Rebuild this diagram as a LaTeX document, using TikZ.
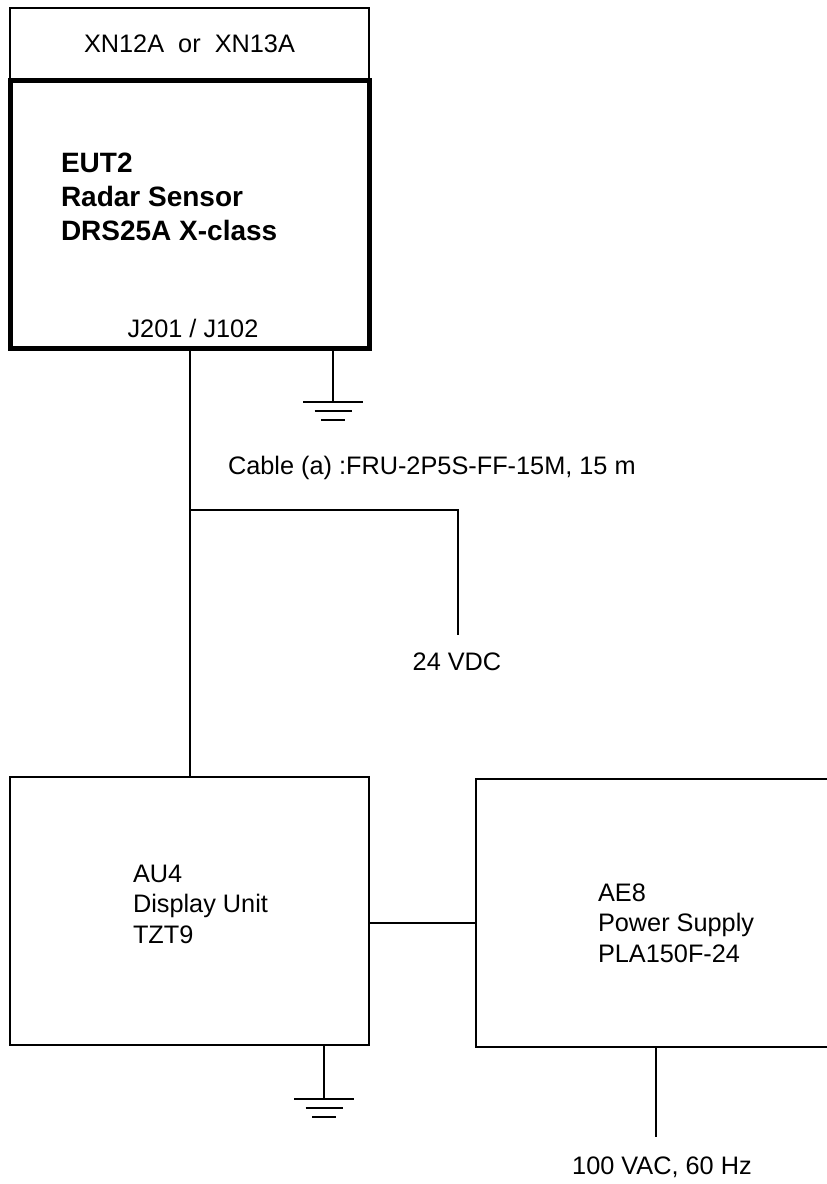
\documentclass[tikz,border=0pt]{standalone}
\usepackage{fontspec}
\setmainfont{Liberation Sans}
\usetikzlibrary{positioning}

\begin{document}
\begin{tikzpicture}[x=1pt, y=-1pt, line width=2pt,
    font=\fontsize{25.3}{30.5}\selectfont,
    unit/.style={draw, minimum width=359pt, minimum height=268pt, inner sep=0pt},
    txt/.style={inner sep=0pt, align=left, anchor=west},
    earth/.pic={\draw (-30,0) -- (30,0) (-18.5,9) -- (18.5,9) (-12,18) -- (12,18);}]
    \clip (0,0) rectangle (827,1184);

    % units
    \node[draw, line width=1.2pt, minimum width=359pt, minimum height=72pt] (hdr) at (189.5,44) {XN12A\ \ or\ \ XN13A};
    \node[unit, line width=5pt] (eut) at (189.5,214) {};
    \node[unit] (au) at (189.5,911) {};
    \node[unit, minimum width=380pt] (ae) at (666,913) {};

    \node[txt, font=\fontsize{28}{34}\selectfont\bfseries] (eutlbl) at (60,197) {EUT2\\Radar Sensor\\DRS25A X-class};
    \node[inner sep=0pt] (port) at (193,328) {J201 / J102};
    \node[txt] (aulbl) at (132,904) {AU4\\Display Unit\\TZT9};
    \node[txt] (aelbl) at (597,923) {AE8\\Power Supply\\PLA150F-24};

    % cabling
    \node[txt] (cable) at (227,468) {Cable (a) :FRU-2P5S-FF-15M, 15 m};
    \node[inner sep=0pt] (dc) at (457,662) {24 VDC};
    \node[inner sep=0pt] (ac) at (662,1167) {100 VAC, 60 Hz};

    \coordinate (tap) at (190,510);
    \coordinate (dcin) at (458,635);
    \coordinate (acin) at (656,1137);
    \coordinate (link) at (0,923);
    \coordinate (g1) at (333,402);
    \coordinate (g2) at (324,1099);

    \draw (eut.south -| tap) -- (au.north -| tap);
    \draw (tap) -| (dcin);
    \draw (au.east |- link) -- (ae.west |- link);
    \draw (ae.south -| acin) -- (acin);

    % grounds
    \draw (eut.south -| g1) -- (g1);
    \pic at (g1) {earth};
    \draw (au.south -| g2) -- (g2);
    \pic at (g2) {earth};
\end{tikzpicture}
\end{document}
